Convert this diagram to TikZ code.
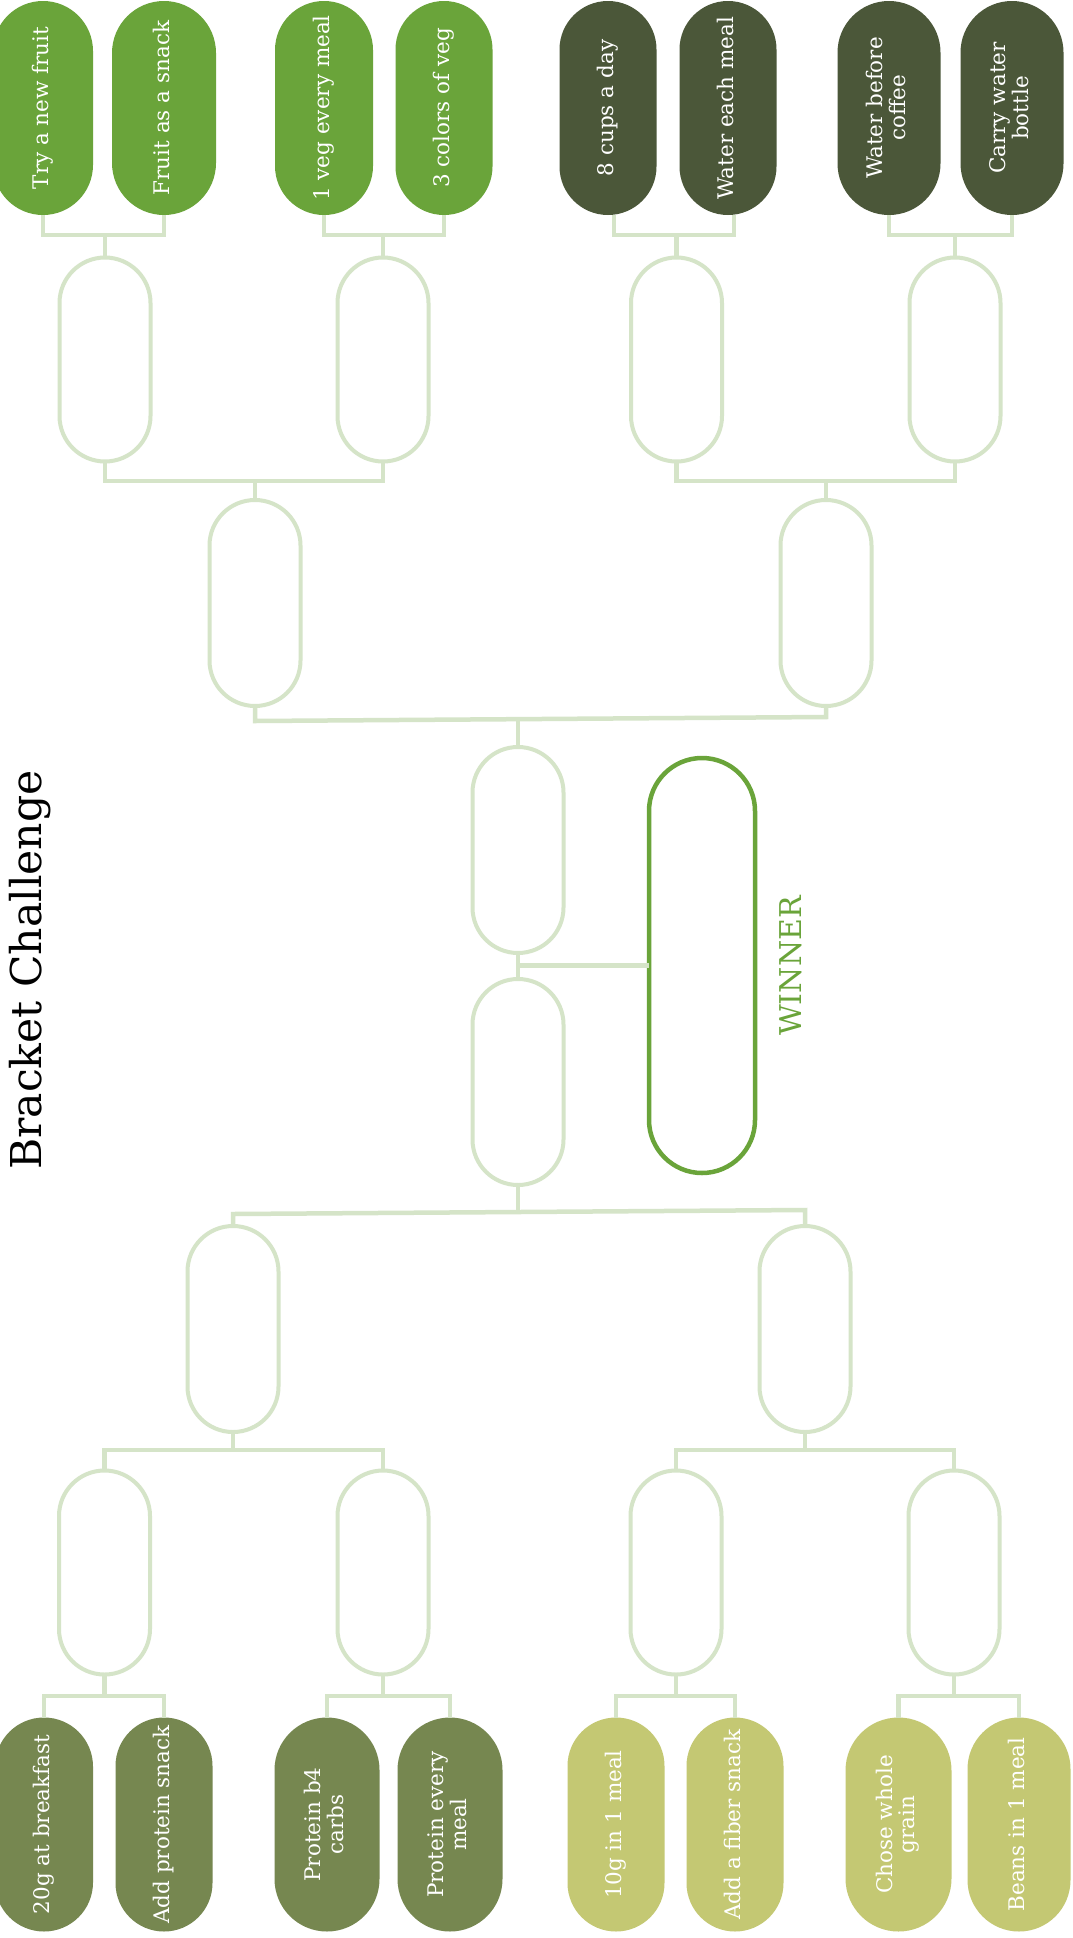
\documentclass[tikz,border=0pt]{standalone}
\usepackage{fontspec}
\setmainfont{DejaVu Serif}
\usepackage{graphicx}
\definecolor{cfruit}{HTML}{6AA43A}
\definecolor{cwater}{HTML}{4B5739}
\definecolor{cprot}{HTML}{768750}
\definecolor{cfiber}{HTML}{C4C873}
\definecolor{cline}{HTML}{D5E4C8}
\definecolor{cwin}{HTML}{6AA43A}
\newcommand\rt[1]{\rotatebox{90}{\begin{tabular}{@{}c@{}}#1\end{tabular}}}
\tikzset{
  pillbase/.style={shape=rectangle, inner sep=0pt, outer sep=0pt},
  fpill/.style 2 args={pillbase, fill=#2, draw=none, text=white,
     minimum width=#1pt, minimum height=214pt, rounded corners=#1*0.5pt,
     font=\fontsize{21.5}{21}\selectfont},
  opill/.style={pillbase, draw=cline, line width=4pt, fill=white,
     minimum width=91pt, minimum height=204pt, rounded corners=45.5pt},
  winpill/.style={pillbase, draw=cwin, line width=4.5pt, fill=white,
     minimum width=106pt, minimum height=415pt, rounded corners=53pt},
  conn/.style={draw=cline, line width=4.5pt},
}
\begin{document}
\begin{tikzpicture}[x=1pt,y=-1pt]
\fill[white] (0,0) rectangle (1072,1938);
\useasboundingbox (0,0) rectangle (1072,1938);

% title
\node[rotate=90, anchor=base, font=\fontsize{42.5}{44}\selectfont] (title) at (41.5,970) {Bracket Challenge};
\node[rotate=90, anchor=base, text=cwin, font=\fontsize{30}{32}\selectfont] (wlabel) at (801.5,966) {WINNER};

% top row
\node[fpill={100}{cfruit}] (t1) at (43,108) {\rt{Try a new fruit}};
\node[fpill={104}{cfruit}] (t2) at (164,108) {\rt{Fruit as a snack}};
\node[fpill={98}{cfruit}] (t3) at (324,108) {\rt{1 veg every meal}};
\node[fpill={97}{cfruit}] (t4) at (444,108) {\rt{3 colors of veg}};
\node[fpill={97}{cwater}] (t5) at (608,108) {\rt{8 cups a day}};
\node[fpill={97}{cwater}] (t6) at (728,108) {\rt{Water each meal}};
\node[fpill={103}{cwater}] (t7) at (889,108) {\rt{Water before\\coffee}};
\node[fpill={103}{cwater}] (t8) at (1012,108) {\rt{Carry water\\bottle}};

% bottom row
\node[fpill={98}{cprot}] (u1) at (44,1824.5) {\rt{20g at breakfast}};
\node[fpill={97}{cprot}] (u2) at (164,1824.5) {\rt{Add protein snack}};
\node[fpill={105}{cprot}] (u3) at (327,1824.5) {\rt{Protein b4\\carbs}};
\node[fpill={105}{cprot}] (u4) at (450,1824.5) {\rt{Protein every\\meal}};
\node[fpill={97}{cfiber}] (u5) at (616,1824.5) {\rt{10g in 1 meal}};
\node[fpill={97}{cfiber}] (u6) at (735,1824.5) {\rt{Add a fiber snack}};
\node[fpill={106}{cfiber}] (u7) at (898.5,1824.5) {\rt{Chose whole\\grain}};
\node[fpill={103}{cfiber}] (u8) at (1019,1824.5) {\rt{Beans in 1 meal}};

% round 2
\node[opill] (a1) at (105,359.5) {};
\node[opill] (a2) at (383,359.5) {};
\node[opill] (a3) at (676.5,359.5) {};
\node[opill] (a4) at (955,359.5) {};
\node[opill] (a5) at (104.5,1572.5) {};
\node[opill] (a6) at (383,1572.5) {};
\node[opill] (a7) at (676,1572.5) {};
\node[opill] (a8) at (954,1572.5) {};

% round 3
\node[opill, minimum height=206pt] (b1) at (255,603) {};
\node[opill, minimum height=206pt] (b2) at (826,603) {};
\node[opill, minimum height=206pt] (b3) at (233,1329) {};
\node[opill, minimum height=206pt] (b4) at (805,1329) {};

% semis and winner
\node[opill, minimum height=206pt] (s1) at (518,850) {};
\node[opill, minimum height=206pt] (s2) at (518,1082) {};
\node[winpill] (w) at (702,965.5) {};

% top brackets: pairs -> round 2
\foreach \l/\r/\p in {t1/t2/a1, t3/t4/a2, t7/t8/a4}{
  \coordinate (j\p) at (\p.north |- 0,235);
  \draw[conn] (\l.south) |- (j\p) -| (\r.south);
  \draw[conn] (j\p) -- (\p.north);
}
\coordinate (ja3) at (a3.north |- 0,235);
\draw[conn] ([xshift=6pt]t5.south) |- (ja3) -| ([xshift=6pt]t6.south);
\draw[conn] (ja3) -- (a3.north);
% round 2 -> round 3 (top)
\foreach \l/\r/\p in {a1/a2/b1, a3/a4/b2}{
  \coordinate (j\p) at (\p.north |- 0,481);
  \draw[conn] (\l.south) |- (j\p) -| (\r.south);
  \draw[conn] (j\p) -- (\p.north);
}
% round 3 (top) -> semi 1
\coordinate (jb1) at (b1.south |- 0,721);
\coordinate (jb2) at (b2.south |- 0,717);
\coordinate (js1) at (s1.north |- 0,719);
\draw[conn] (b1.south) -- (jb1) -- (jb2) -- (b2.south);
\draw[conn] (js1) -- (s1.north);

% semis -> winner
\draw[conn] (s1.south) -- (s2.north);
\draw[conn] (s1.south |- w.west) -- (w.west);

% semi 2 -> round 3 (bottom)
\coordinate (jb3) at (b3.north |- 0,1214);
\coordinate (jb4) at (b4.north |- 0,1210);
\coordinate (js2) at (s2.south |- 0,1212);
\draw[conn] (b3.north) -- (jb3) -- (jb4) -- (b4.north);
\draw[conn] (s2.south) -- (js2);

% round 3 (bottom) -> round 2 (bottom)
\foreach \l/\r/\p in {a5/a6/b3, a7/a8/b4}{
  \coordinate (k\p) at (\p.south |- 0,1450);
  \draw[conn] (\l.north) |- (k\p) -| (\r.north);
  \draw[conn] (\p.south) -- (k\p);
}
% round 2 (bottom) -> bottom row
\foreach \l/\r/\p in {u1/u2/a5, u3/u4/a6, u5/u6/a7, u7/u8/a8}{
  \coordinate (k\p) at (\p.south |- 0,1696);
  \draw[conn] (\l.north) |- (k\p) -| (\r.north);
  \draw[conn] (\p.south) -- (k\p);
}
\end{tikzpicture}
\end{document}
